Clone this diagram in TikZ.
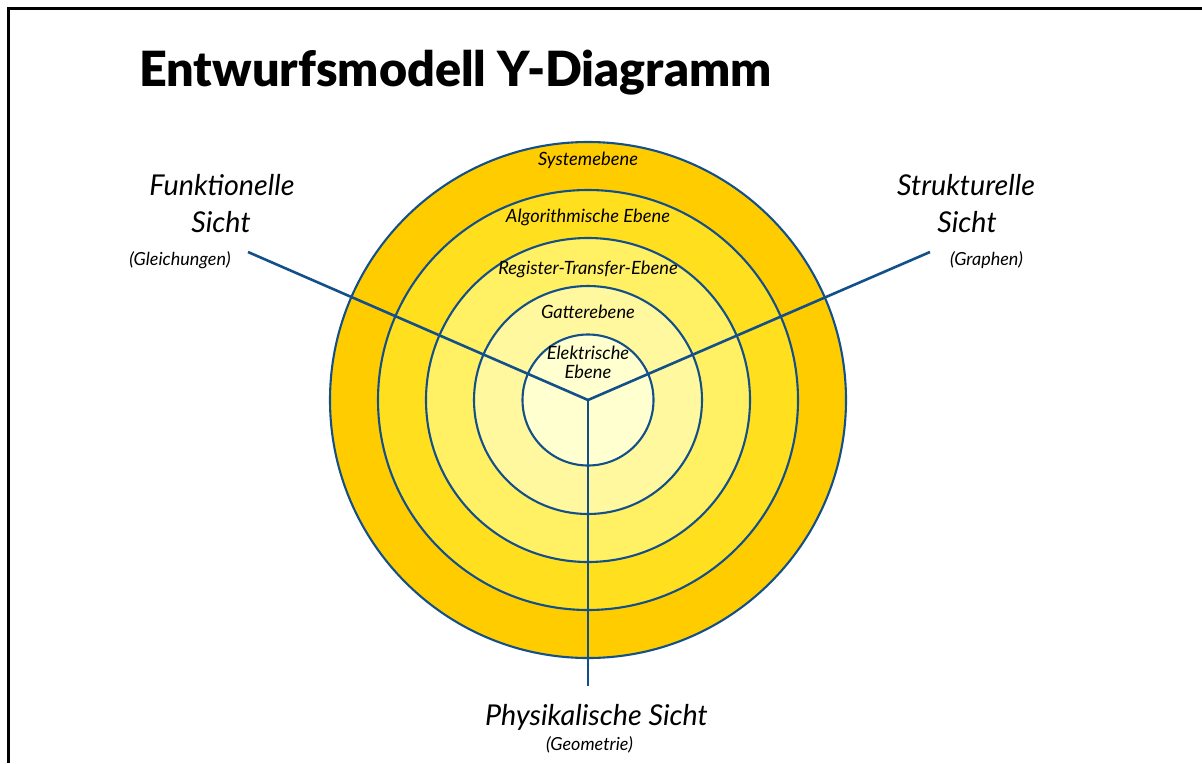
\documentclass[tikz,border=0pt]{standalone}
\usepackage{fontspec}
\setmainfont{Lato}
\newfontfamily\titlefont{Lato Black}
\definecolor{ringline}{HTML}{13508A}
\definecolor{ringA}{HTML}{FFCC00}
\definecolor{ringB}{HTML}{FFDF1E}
\definecolor{ringC}{HTML}{FFF064}
\definecolor{ringD}{HTML}{FFF89E}
\definecolor{ringE}{HTML}{FFFFCF}
\tikzset{
  ring/.style={circle, draw=ringline, line width=2.1pt, inner sep=0pt},
  axis/.style={draw=ringline, line width=2.6pt},
  levellabel/.style={anchor=base, inner sep=0pt, font=\fontsize{18.3}{20}\selectfont\itshape},
  viewlabel/.style={anchor=base, inner sep=0pt, align=center, font=\fontsize{28.7}{37}\selectfont\itshape},
  notelabel/.style={anchor=base, inner sep=0pt, font=\fontsize{18}{20}\selectfont\itshape}
}
\begin{document}
\begin{tikzpicture}[x=1pt,y=-1pt]
\useasboundingbox (0,0) rectangle (1202,763);
% frame
\draw[line width=3pt] (8,763) -- (8,8) -- (1202,8);
% title
\node[anchor=base west, inner sep=0pt, font=\titlefont\fontsize{48.5}{50}\selectfont] (title) at (139,86) {Entwurfsmodell Y-Diagramm};
% concentric abstraction levels
\coordinate (c) at (588,400);
\node[ring, fill=ringA, minimum size=516pt] (lvA) at (c) {};
\node[ring, fill=ringB, minimum size=420pt] (lvB) at (c) {};
\node[ring, fill=ringC, minimum size=324pt] (lvC) at (c) {};
\node[ring, fill=ringD, minimum size=228pt] (lvD) at (c) {};
\node[ring, fill=ringE, minimum size=131pt] (lvE) at (c) {};
% the three axes of the Y
\coordinate (fend) at (248,252);
\coordinate (send) at (930,252);
\coordinate (pend) at (588,686);
\draw[axis] (fend) -- (c) -- (send);
\draw[axis] (c) -- (pend);
% level names
\node[levellabel] (tA) at (588,165) {Systemebene};
\node[levellabel] (tB) at (588,222) {Algorithmische Ebene};
\node[levellabel] (tC) at (588,274) {Register-Transfer-Ebene};
\node[levellabel] (tD) at (588,318) {Gatterebene};
\node[levellabel] (tE1) at (588,359) {Elektrische};
\node[levellabel] (tE2) at (588,378) {Ebene};
% view names
\node[viewlabel] (vf1) at (222,195) {Funktionelle};
\node[viewlabel] (vf2) at (221,232) {Sicht};
\node[notelabel] (nf) at (180,265) {(Gleichungen)};
\node[viewlabel] (vs1) at (966,195) {Strukturelle};
\node[viewlabel] (vs2) at (967,232) {Sicht};
\node[notelabel] (ns) at (986.5,265) {(Graphen)};
\node[viewlabel] (vp) at (596.5,725) {Physikalische Sicht};
\node[notelabel] (np) at (589.5,750) {(Geometrie)};
\end{tikzpicture}
\end{document}
